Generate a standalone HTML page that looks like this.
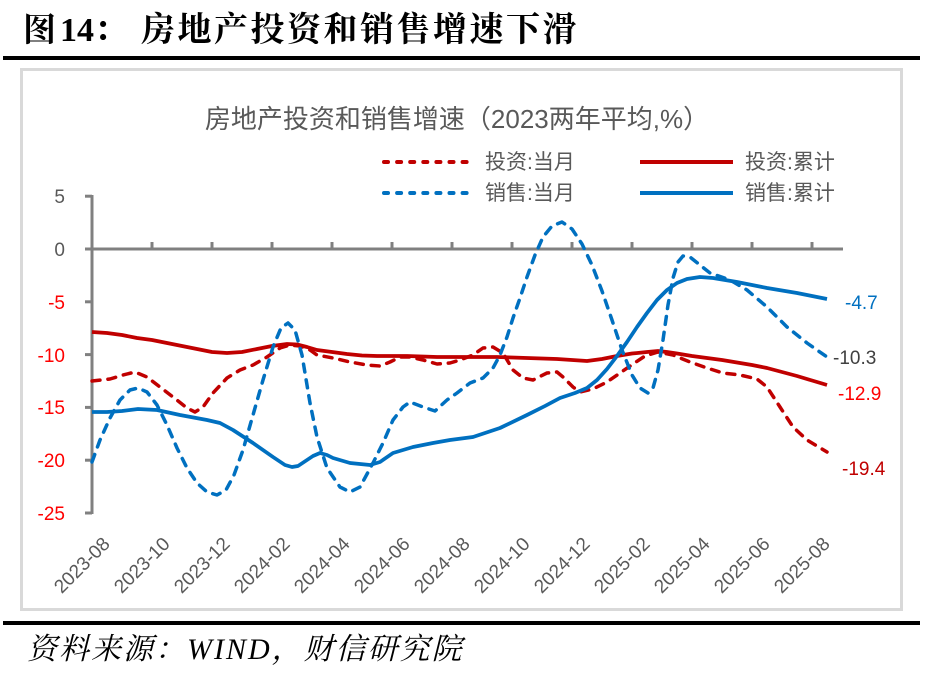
<!DOCTYPE html>
<html><head><meta charset="utf-8"><style>
html,body{margin:0;padding:0;background:#fff;}
body{width:929px;height:675px;overflow:hidden;}
svg{display:block;}
.cn{font-family:"Liberation Sans","Noto Sans CJK SC",sans-serif;}
.ax{font-family:"Liberation Sans","Noto Sans CJK SC",sans-serif;font-size:19px;}
</style></head><body>
<svg width="929" height="675" viewBox="0 0 929 675" xmlns="http://www.w3.org/2000/svg">
<rect x="0" y="0" width="929" height="675" fill="#fff"/>
<!-- header title -->
<text x="23" y="41" font-family="'Noto Serif CJK SC',serif" font-weight="bold" font-size="33" fill="#000">图</text>
<text x="60" y="41" font-family="'Liberation Serif',serif" font-weight="bold" font-size="34" fill="#000">14</text>
<text x="94" y="41" font-family="'Noto Serif CJK SC',serif" font-weight="bold" font-size="34" fill="#000">：</text>
<text x="141" y="41" font-family="'Noto Serif CJK SC',serif" font-weight="bold" font-size="34" letter-spacing="2.5" fill="#000">房地产投资和销售增速下滑</text>
<rect x="3" y="56" width="917" height="4" fill="#000"/>
<!-- chart frame -->
<rect x="21.5" y="69.5" width="880" height="540" fill="#fff" stroke="#d9d9d9" stroke-width="3"/>
<!-- chart title -->
<text x="457" y="128" text-anchor="middle" font-family="'Liberation Sans','Noto Sans CJK SC',sans-serif" font-size="26" fill="#595959">房地产投资和销售增速（2023两年平均,%）</text>
<!-- legend -->
<line x1="384" y1="162" x2="475" y2="162" stroke="#c00000" stroke-width="4" stroke-dasharray="4 9.1" stroke-linecap="round"/>
<text x="485" y="169" class="cn" font-size="21" fill="#595959">投资:当月</text>
<line x1="640" y1="162" x2="733" y2="162" stroke="#c00000" stroke-width="4"/>
<text x="745" y="169" class="cn" font-size="21" fill="#595959">投资:累计</text>
<line x1="384" y1="193" x2="475" y2="193" stroke="#0070c0" stroke-width="4" stroke-dasharray="4 9.1" stroke-linecap="round"/>
<text x="485" y="200" class="cn" font-size="21" fill="#595959">销售:当月</text>
<line x1="640" y1="193" x2="733" y2="193" stroke="#0070c0" stroke-width="4"/>
<text x="745" y="200" class="cn" font-size="21" fill="#595959">销售:累计</text>
<!-- axes -->
<g stroke="#808080" stroke-width="3" fill="none">
<line x1="92" y1="195" x2="92" y2="514"/>
<line x1="85" y1="196.2" x2="92" y2="196.2"/>
<line x1="85" y1="249" x2="92" y2="249"/>
<line x1="85" y1="301.8" x2="92" y2="301.8"/>
<line x1="85" y1="354.6" x2="92" y2="354.6"/>
<line x1="85" y1="407.4" x2="92" y2="407.4"/>
<line x1="85" y1="460.2" x2="92" y2="460.2"/>
<line x1="85" y1="513" x2="92" y2="513"/>
<line x1="92" y1="249" x2="843" y2="249"/>
<line x1="152" y1="242" x2="152" y2="249"/>
<line x1="212" y1="242" x2="212" y2="249"/>
<line x1="272" y1="242" x2="272" y2="249"/>
<line x1="332" y1="242" x2="332" y2="249"/>
<line x1="392" y1="242" x2="392" y2="249"/>
<line x1="452" y1="242" x2="452" y2="249"/>
<line x1="512" y1="242" x2="512" y2="249"/>
<line x1="572" y1="242" x2="572" y2="249"/>
<line x1="632" y1="242" x2="632" y2="249"/>
<line x1="692" y1="242" x2="692" y2="249"/>
<line x1="752" y1="242" x2="752" y2="249"/>
<line x1="812" y1="242" x2="812" y2="249"/>
</g>
<!-- y labels -->
<g class="ax" text-anchor="end">
<text x="65" y="203" fill="#595959">5</text>
<text x="65" y="256" fill="#595959">0</text>
<text x="65" y="309" fill="#ff0000">-5</text>
<text x="65" y="362" fill="#ff0000">-10</text>
<text x="65" y="414" fill="#ff0000">-15</text>
<text x="65" y="467" fill="#ff0000">-20</text>
<text x="65" y="520" fill="#ff0000">-25</text>
</g>
<!-- x labels -->
<g class="ax" text-anchor="end" fill="#595959">
<text transform="translate(111,545) rotate(-45)">2023-08</text>
<text transform="translate(171,545) rotate(-45)">2023-10</text>
<text transform="translate(231,545) rotate(-45)">2023-12</text>
<text transform="translate(291,545) rotate(-45)">2024-02</text>
<text transform="translate(351,545) rotate(-45)">2024-04</text>
<text transform="translate(411,545) rotate(-45)">2024-06</text>
<text transform="translate(471,545) rotate(-45)">2024-08</text>
<text transform="translate(531,545) rotate(-45)">2024-10</text>
<text transform="translate(591,545) rotate(-45)">2024-12</text>
<text transform="translate(651,545) rotate(-45)">2025-02</text>
<text transform="translate(711,545) rotate(-45)">2025-04</text>
<text transform="translate(771,545) rotate(-45)">2025-06</text>
<text transform="translate(831,545) rotate(-45)">2025-08</text>
</g>
<!-- series -->
<g fill="none" stroke-linejoin="round">
<polyline stroke="#c00000" stroke-width="3.5" stroke-dasharray="8 8" stroke-linecap="round" points="92,381 110,379 123,375 135,372 147,377 160,387 173,397 187,408 195,412 203,407 213,393 227,378 240,370 253,365 267,357 280,348 290,345 300,346 310,350 317,355 333,358 350,362 367,365 380,366 390,362 400,357 410,357 423,360 437,364 450,363 460,360 473,355 483,348 493,347 503,353 513,370 523,378 533,380 547,373 557,372 563,377 573,387 580,392 593,389 607,382 620,373 633,364 645,356 658,352 673,355 690,362 707,368 723,373 740,375 757,379 767,387 780,407 793,427 807,440 827,452"/>
<polyline stroke="#c00000" stroke-width="3.75" points="92,332 107,333 122,335 137,338 152,340 167,343 182,346 197,349 212,352 227,353 242,352 257,349 272,346 287,344 297,344.5 307,347 317,350 332,352 347,354 362,355.5 377,356 392,356 407,356 422,356.5 437,357 452,357 467,357 482,357 497,357 512,357.5 527,358 542,358.5 557,359 572,360 587,361 602,359 617,356 632,353.5 647,352 658,351 667,352 677,353.5 692,356 707,358 722,360 737,362.5 752,365 767,368 782,372 797,376 812,380.5 827,385"/>
<polyline stroke="#0070c0" stroke-width="3.5" stroke-dasharray="8 8" stroke-linecap="round" points="92,462 100,440 110,418 120,400 130,390 138,388 147,392 157,405 167,425 177,448 187,468 197,483 207,492 217,495 226,490 234,475 243,450 253,415 263,380 273,347 281,328 288,323 295,330 302,355 310,403 317,437 327,468 340,487 350,492 360,487 373,463 383,443 393,420 403,407 410,402 423,407 435,411 447,400 457,393 470,383 483,378 493,368 500,355 507,337 513,318 520,298 527,277 535,255 543,237 552,226 562,222 572,229 582,244 592,265 602,291 612,320 622,350 632,375 640,388 648,393 653,388 658,370 663,340 668,305 673,278 678,262 683,256 690,257 700,265 710,273 730,280 747,290 767,307 787,327 807,343 827,357"/>
<polyline stroke="#0070c0" stroke-width="3.75" points="92,412 107,412 122,411 138,409 157,410 180,415 207,420 220,423 233,430 253,443 273,457 285,465 292,467 298,466 307,460 313,456 320,453 327,455 333,458 350,463 370,465 380,462 393,453 413,447 433,443 450,440 473,437 500,428 527,415 545,406 560,398 575,393 587,388 597,380 607,369 617,356 627,342 637,327 647,313 657,300 667,290 677,283 687,279 700,277 713,278 737,282 767,288 797,293 827,299"/>
</g>
<!-- end labels -->
<g class="ax">
<text x="845" y="309" fill="#0070c0">-4.7</text>
<text x="833" y="364" fill="#404040">-10.3</text>
<text x="838" y="400" fill="#ff0000">-12.9</text>
<text x="842" y="475" fill="#c00000">-19.4</text>
</g>
<!-- footer -->
<rect x="3" y="621" width="917" height="4" fill="#000"/>
<text x="27" y="659" font-family="'Liberation Serif','Noto Serif CJK SC',serif" font-style="italic" font-size="30" letter-spacing="2" fill="#000">资料来源：WIND，财信研究院</text>
</svg>
</body></html>
